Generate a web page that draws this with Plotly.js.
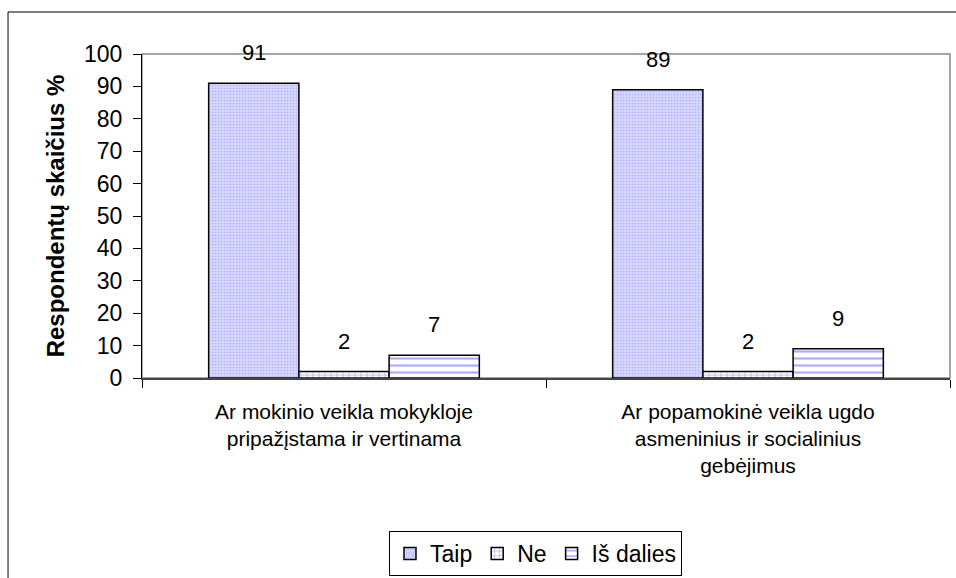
<!DOCTYPE html>
<html>
<head>
<meta charset="utf-8">
<script src="https://cdn.plot.ly/plotly-3.0.1.min.js"></script>
<style>html,body{margin:0;padding:0;background:#fff;}#chart{width:956px;height:578px;}</style>
</head>
<body>
<div id="chart"></div>
<script>
const categories = [
  "Ar mokinio veikla mokykloje<br>pripažįstama ir vertinama",
  "Ar popamokinė veikla ugdo<br>asmeninius ir socialinius<br>gebėjimus"
];
const seriesNames = ["Taip", "Ne", "Iš dalies"];
const taip = [91, 89];
const ne = [2, 2];
const isDalies = [7, 9];
const yTicks = [0, 10, 20, 30, 40, 50, 60, 70, 80, 90, 100];

const FONT = "Liberation Sans, Arial, sans-serif";
const patterns = [
  {shape: ".", fgcolor: "#b4b4ff", bgcolor: "#dcdcff", size: 3, solidity: 0.4},
  {shape: "+", fgcolor: "#9999ff", bgcolor: "#ffffff", size: 6, solidity: 0.2},
  {shape: "-", fgcolor: "#aaaaff", bgcolor: "#ffffff", size: 7, solidity: 0.3}
];
const values = [taip, ne, isDalies];

const W = 956, H = 578;
const M = {l: 142, r: 6, t: 54, b: 200, autoexpand: false};
const BARGAP = 0.33;
const plotW = W - M.l - M.r;
const barPx = plotW / categories.length * (1 - BARGAP) / values.length;

const traces = values.map((v, i) => ({
  type: "bar",
  name: seriesNames[i],
  x: categories,
  y: v,
  marker: {color: patterns[i].fgcolor, pattern: patterns[i], line: {color: "#000", width: 1.5}},
  hoverinfo: "skip"
}));

const annotations = [];
values.forEach((v, i) => {
  v.forEach((val, j) => {
    annotations.push({
      xref: "x", yref: "y", x: categories[j], y: val,
      xshift: (i - (values.length - 1) / 2) * barPx,
      yshift: 16, yanchor: "bottom", showarrow: false,
      text: String(val), font: {family: FONT, size: 22, color: "#000"}
    });
  });
});

const layout = {
  width: W, height: H,
  margin: M,
  paper_bgcolor: "#fff", plot_bgcolor: "#fff",
  barmode: "group", bargap: BARGAP, bargroupgap: 0,
  font: {family: FONT, size: 21, color: "#000"},
  showlegend: true,
  legend: {
    orientation: "h", x: 0.487, xanchor: "center", y: -0.472, yanchor: "top",
    bordercolor: "#000", borderwidth: 1, font: {family: FONT, size: 23, color: "#000"},
    itemwidth: 30, traceorder: "normal"
  },
  xaxis: {
    type: "category", showline: true, linecolor: "#444", linewidth: 1.5,
    ticks: "outside", tickson: "boundaries", ticklen: 8, tickcolor: "#000",
    tickfont: {family: FONT, size: 21, color: "#000"}, ticklabelstandoff: 14,
    showgrid: false, zeroline: false, fixedrange: true, automargin: false
  },
  yaxis: {
    range: [0, 100], tickvals: yTicks, ticktext: yTicks.map(String),
    showline: true, linecolor: "#000", linewidth: 1,
    ticks: "outside", ticklen: 8, tickcolor: "#000",
    tickfont: {family: FONT, size: 23, color: "#000"}, ticklabelstandoff: 6,
    showgrid: false, zeroline: false, automargin: false,
    title: {text: "Respondentų skaičius %", font: {family: FONT, size: 24, color: "#000", weight: "bold"}, standoff: 12},
    fixedrange: true
  },
  annotations: annotations,
  shapes: [
    {type: "rect", xref: "paper", yref: "paper", x0: 0, x1: 1, y0: 0, y1: 1, line: {color: "#888", width: 1.5}, layer: "below"},
    {type: "rect", xref: "paper", yref: "paper", x0: -0.1658, x1: 1.02, y0: -0.65, y1: 1.1296, line: {color: "#000", width: 1}, layer: "below"}
  ]
};

Plotly.newPlot("chart", traces, layout, {displayModeBar: false, staticPlot: true});
</script>
</body>
</html>
